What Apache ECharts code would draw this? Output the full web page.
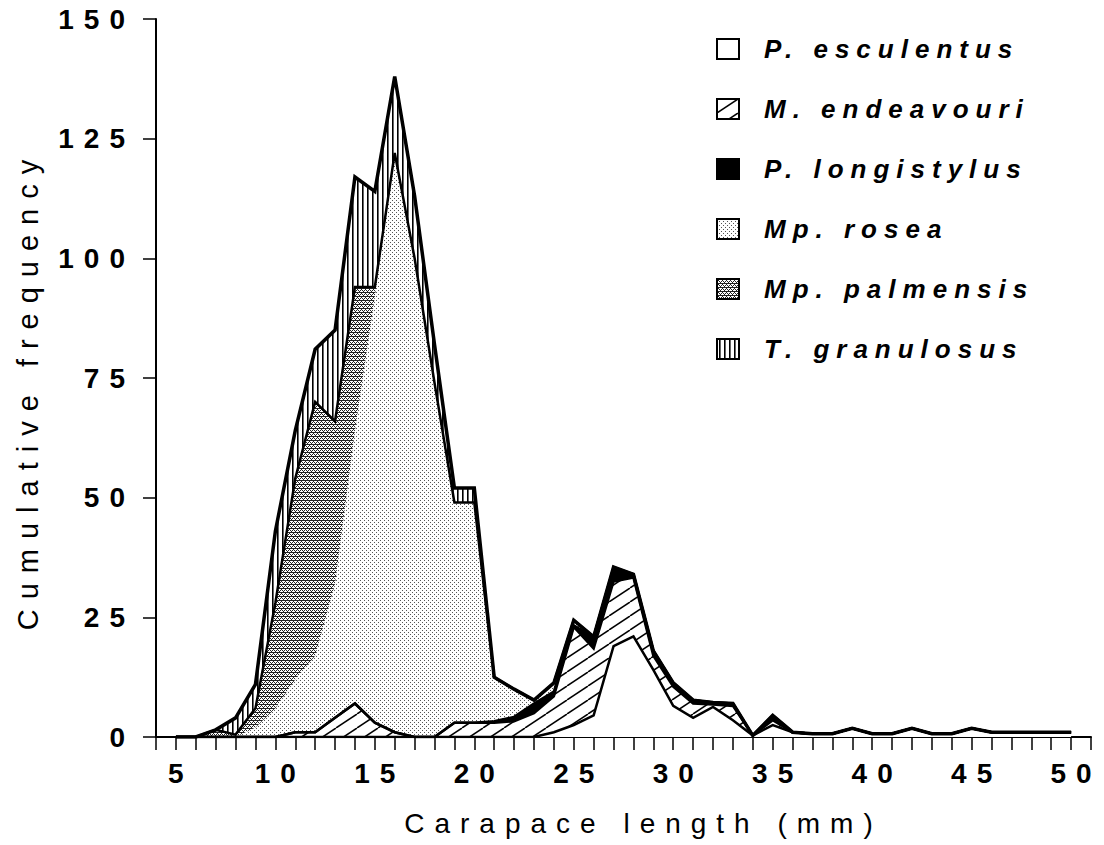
<!DOCTYPE html>
<html>
<head>
<meta charset="utf-8">
<title>Cumulative frequency by carapace length</title>
<script src="https://cdn.jsdelivr.net/npm/echarts@6/dist/echarts.min.js"></script>
<style>
  html, body { margin: 0; padding: 0; background: #fff; }
  #main { width: 1104px; height: 845px; }
  /* the original figure uses widely spaced lettering */
  #main text { letter-spacing: 10px; }
  #main text[style*="italic"], #main text[font-style="italic"] { letter-spacing: 7px; }
</style>
</head>
<body>
<div id="main"></div>
<script>
// carapace length classes (mm)
const lengths = [5, 6, 7, 8, 9, 10, 11, 12, 13, 14, 15, 16, 17, 18, 19, 20, 21, 22, 23, 24,
  25, 26, 27, 28, 29, 30, 31, 32, 33, 34, 35, 36, 37, 38, 39, 40, 41, 42, 43, 44,
  45, 46, 47, 48, 49, 50]
// the axis runs one class beyond the data on each side
const axisClasses = [4, ...lengths, 51]

// frequencies per species (stacked from the bottom up)
const esculentus = [0, 0, 0, 0, 0, 0, 0, 0, 0, 0, 0, 0, 0, 0, 0, 0, 0, 0, 0, 1,
  2.5, 4.5, 19, 21, 14, 6.5, 4, 6.3, 3.5, 0.3, 2.5, 1, 0.7, 0.7, 1.8, 0.7, 0.7, 1.8, 0.7, 0.7,
  1.8, 1, 1, 1, 1, 1]
const endeavouri = [0, 0, 0, 0, 0, 0, 1, 1, 4, 7, 3, 1, 0, 0, 3, 3, 3, 3.3, 5, 7.5,
  20.5, 14, 13.5, 12.3, 3, 4, 3, 0.5, 3, 0, 1, 0, 0, 0, 0, 0, 0, 0, 0, 0,
  0, 0, 0, 0, 0, 0]
const longistylus = [0, 0, 0, 0, 0, 0, 0, 0, 0, 0, 0, 0, 0, 0, 0, 0, 0.3, 0.9, 2, 1,
  0.3, 2.4, 2.8, 0.7, 1, 0.8, 0.7, 0.4, 0.5, 0, 1, 0, 0, 0, 0, 0, 0, 0, 0, 0,
  0, 0, 0, 0, 0, 0]
const rosea = [0, 0, 0, 0, 2, 6, 11, 16, 28, 57, 89, 121, 100, 74, 46, 46, 9.2, 5.8, 0.7, 1.8,
  1.1, 0, 0.2, 0, 0, 0, 0, 0, 0, 0, 0, 0, 0, 0, 0, 0, 0, 0, 0, 0,
  0, 0, 0, 0, 0, 0]
const palmensis = [0, 0, 1.5, 0.5, 4, 22, 42, 53, 34, 30, 2, 0, 0, 0, 0, 0, 0, 0, 0, 0,
  0, 0, 0, 0, 0, 0, 0, 0, 0, 0, 0, 0, 0, 0, 0, 0, 0, 0, 0, 0,
  0, 0, 0, 0, 0, 0]
const granulosus = [0, 0, 0, 3.5, 5, 15, 10, 11, 19, 23, 20, 16, 13, 8, 3, 3, 0, 0, 0, 0,
  0, 0, 0, 0, 0, 0, 0, 0, 0, 0, 0, 0, 0, 0, 0, 0, 0, 0, 0, 0,
  0, 0, 0, 0, 0, 0]

const speciesNames = ['P. esculentus', 'M. endeavouri', 'P. longistylus', 'Mp. rosea', 'Mp. palmensis', 'T. granulosus']

// 填充纹理 (pattern tiles drawn on a small canvas)
const makeTile = (w, h, draw) => {
  const c = document.createElement('canvas')
  c.width = w
  c.height = h
  const ctx = c.getContext('2d')
  ctx.fillStyle = '#fff'
  ctx.fillRect(0, 0, w, h)
  ctx.fillStyle = '#000'
  ctx.strokeStyle = '#000'
  draw(ctx, w, h)
  return { image: c.toDataURL(), repeat: 'repeat', imageWidth: w, imageHeight: h }
}

const hatch = makeTile(21, 14, (ctx, w, h) => {
  ctx.lineWidth = 1.5
  for (const dx of [-w, 0, w]) {
    ctx.beginPath()
    ctx.moveTo(dx, h)
    ctx.lineTo(dx + w, 0)
    ctx.stroke()
  }
})
const lightDots = makeTile(4, 4, (ctx) => {
  ctx.fillStyle = '#555'
  ctx.fillRect(0, 0, 1, 1)
  ctx.fillRect(2, 2, 1, 1)
})
const darkDots = makeTile(4, 4, (ctx) => {
  ctx.fillStyle = '#222'
  ctx.fillRect(0, 0, 4, 1)
  ctx.fillRect(1, 1, 1, 1)
  ctx.fillRect(0, 2, 1, 1)
  ctx.fillRect(2, 2, 1, 1)
  ctx.fillRect(3, 3, 1, 1)
})
const vertLines = makeTile(5, 4, (ctx) => {
  ctx.fillRect(2, 0, 1.6, 4)
})

const fills = ['#fff', hatch, '#000', lightDots, darkDots, vertLines]
const lineWidths = [2.5, 2.5, 2.5, 0, 2.5, 3.5]
const values = [esculentus, endeavouri, longistylus, rosea, palmensis, granulosus]

const chart = echarts.init(document.getElementById('main'), null, { renderer: 'svg' })

const series = speciesNames.map((name, k) => ({
  name: name,
  type: 'line',
  stack: 'total',
  symbol: 'none',
  color: '#000',
  lineStyle: { color: '#000', width: lineWidths[k], join: 'miter' },
  areaStyle: { color: fills[k], opacity: 1 },
  // no value at the two padding classes
  data: [null, ...values[k], null]
}))

const option = {
  animation: false,
  backgroundColor: '#fff',
  grid: { left: 156, right: 13, top: 19, bottom: 108 },
  legend: {
    orient: 'vertical',
    left: 711,
    top: 31,
    icon: 'rect',
    itemWidth: 22,
    itemHeight: 20,
    itemGap: 34,
    itemStyle: { borderColor: '#000', borderWidth: 2 },
    textStyle: {
      fontFamily: 'Liberation Sans',
      fontStyle: 'italic',
      fontWeight: 'bold',
      fontSize: 26,
      lineHeight: 26,
      color: '#000',
      padding: [0, 0, 0, 20]
    },
    data: speciesNames.map((name, k) => ({
      name: name,
      itemStyle: { color: fills[k], borderColor: '#000', borderWidth: 2 }
    }))
  },
  xAxis: {
    type: 'category',
    data: axisClasses.map(String),
    boundaryGap: false,
    name: 'Carapace length (mm)',
    nameLocation: 'middle',
    nameGap: 72,
    nameTextStyle: { fontFamily: 'Liberation Sans', fontSize: 28, color: '#000', padding: [0, 0, 0, 40] },
    axisLine: { show: true, lineStyle: { color: '#000', width: 2 } },
    axisTick: { show: true, inside: false, interval: 0, length: 13, lineStyle: { color: '#000', width: 1.5 } },
    axisLabel: {
      interval: 0,
      margin: 22,
      padding: [0, 0, 0, 10],
      fontFamily: 'Liberation Sans',
      fontWeight: 'bold',
      fontSize: 28,
      color: '#000',
      formatter: (v) => {
        const n = Number(v)
        return n % 5 === 0 && n >= 5 && n <= 50 ? v : ''
      }
    },
    splitLine: { show: false }
  },
  yAxis: {
    type: 'value',
    min: 0,
    max: 150,
    interval: 25,
    name: 'Cumulative frequency',
    nameLocation: 'middle',
    nameGap: 114,
    nameTextStyle: { fontFamily: 'Liberation Sans', fontSize: 29, color: '#000', padding: [0, 24, 0, 0] },
    axisLine: { show: true, lineStyle: { color: '#000', width: 2 } },
    axisTick: { show: true, inside: false, length: 13, lineStyle: { color: '#000', width: 1.5 } },
    axisLabel: {
      margin: 21,
      fontFamily: 'Liberation Sans',
      fontWeight: 'bold',
      fontSize: 28,
      color: '#000'
    },
    splitLine: { show: false }
  },
  series: series
}

chart.setOption(option)
</script>
</body>
</html>
